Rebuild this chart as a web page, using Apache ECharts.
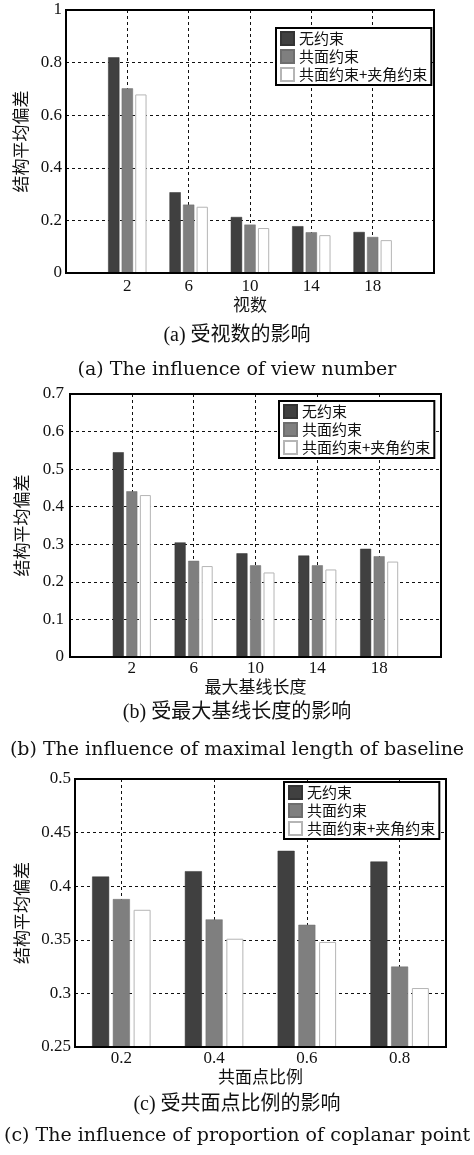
<!DOCTYPE html>
<html>
<head>
<meta charset="utf-8">
<script src="https://cdn.jsdelivr.net/npm/echarts@6/dist/echarts.min.js"></script>
<style>
  html, body { margin: 0; padding: 0; background: #fff; }
  #chart { width: 474px; height: 1155px; }
</style>
</head>
<body>
<div id="chart"></div>
<script>
// Series names
const seriesNames = ['无约束', '共面约束', '共面约束+夹角约束'];

// (a) view number
const viewLabels = ['2', '6', '10', '14', '18'];
const viewNone = [0.820, 0.307, 0.213, 0.178, 0.156];
const viewCoplanar = [0.702, 0.260, 0.184, 0.155, 0.137];
const viewBoth = [0.679, 0.252, 0.171, 0.144, 0.125];

// (b) maximal baseline length
const baseLabels = ['2', '6', '10', '14', '18'];
const baseNone = [0.545, 0.305, 0.276, 0.270, 0.288];
const baseCoplanar = [0.441, 0.256, 0.244, 0.244, 0.268];
const baseBoth = [0.431, 0.242, 0.225, 0.233, 0.254];

// (c) proportion of coplanar points
const ratioLabels = ['0.2', '0.4', '0.6', '0.8'];
const ratioNone = [0.409, 0.414, 0.433, 0.423];
const ratioCoplanar = [0.388, 0.369, 0.364, 0.325];
const ratioBoth = [0.378, 0.351, 0.348, 0.305];

const NUM_FONT = '"Liberation Serif", "Noto Sans CJK SC", serif';
const CJK_FONT = '"Noto Sans CJK SC", sans-serif';
const EN_FONT = '"DejaVu Serif", serif';

const styles = [
  { color: '#404040', borderColor: '#333333', borderWidth: 0.5 },
  { color: '#7f7f7f', borderColor: '#6e6e6e', borderWidth: 0.5 },
  { color: '#ffffff', borderColor: '#b5b5b5', borderWidth: 1 }
];

const grids = [
  { left: 66, top: 10, width: 368, height: 263 },
  { left: 70, top: 394, width: 371, height: 263 },
  { left: 75, top: 779, width: 371, height: 268 }
];

// padded category lists: an empty slot on each side puts the ticks on split lines
const padEnds = arr => ['', ...arr, ''];
const padEndsData = arr => [null, ...arr, null];
// interleave empty slots so every real category sits on a grid line
const interleave = arr => { const out = ['']; arr.forEach(v => out.push(v, '')); return out; };
const interleaveData = arr => { const out = [null]; arr.forEach(v => out.push(v, null)); return out; };

const dashed = { show: true, lineStyle: { color: '#111', type: [3, 3], width: 1 } };

function xAxisFor(i, cats, name, nameGap, labelMargin, splitInterval) {
  return {
    type: 'category', gridIndex: i, data: cats, boundaryGap: false,
    name: name, nameLocation: 'middle', nameGap: nameGap,
    nameTextStyle: { fontFamily: CJK_FONT, fontSize: 17, color: '#111' },
    axisLine: { show: true, lineStyle: { color: '#000', width: 2 } },
    axisTick: { show: false },
    axisLabel: { interval: 0, margin: labelMargin, fontFamily: NUM_FONT, fontSize: 17, color: '#111' },
    splitLine: Object.assign({}, dashed, { interval: splitInterval })
  };
}

function yAxisFor(i, min, max, interval, nameGap, labelMargin) {
  return {
    type: 'value', gridIndex: i, min: min, max: max, interval: interval,
    name: '结构平均偏差', nameLocation: 'middle', nameGap: nameGap, nameRotate: 90,
    nameTextStyle: { fontFamily: CJK_FONT, fontSize: 17, color: '#111' },
    axisLine: { show: true, lineStyle: { color: '#000', width: 2 } },
    axisTick: { show: true, inside: true, length: 3, lineStyle: { color: '#000' } },
    axisLabel: { margin: labelMargin, fontFamily: NUM_FONT, fontSize: 17, color: '#111' },
    splitLine: dashed
  };
}

function barsFor(i, lists, barWidth, barGap) {
  return lists.map((d, k) => ({
    type: 'bar', name: seriesNames[k], xAxisIndex: i, yAxisIndex: i,
    data: d, barWidth: barWidth, barGap: barGap,
    itemStyle: styles[k], animation: false
  }));
}

function legendFor(left, top) {
  return {
    data: seriesNames, orient: 'vertical', left: left, top: top,
    icon: 'rect', itemWidth: 13, itemHeight: 13, itemGap: 3,
    padding: [3, 4, 3, 4], borderColor: '#000', borderWidth: 2,
    backgroundColor: '#fff', selectedMode: false,
    textStyle: { fontFamily: CJK_FONT, fontSize: 15, color: '#111' }
  };
}

function caption(text, y, font, size) {
  return {
    type: 'text', x: 237, y: y, z: 10,
    style: { text: text, textAlign: 'center', textVerticalAlign: 'middle',
             font: size + 'px ' + font, fill: '#111' }
  };
}

function frame(g) {
  return {
    type: 'rect', z: 20, silent: true,
    shape: { x: g.left, y: g.top, width: g.width, height: g.height },
    style: { fill: null, stroke: '#000', lineWidth: 2 }
  };
}

const option = {
  animation: false,
  backgroundColor: '#fff',
  grid: grids.map(g => Object.assign({ containLabel: false }, g)),
  legend: [legendFor(276, 28), legendFor(279, 401), legendFor(284, 782)],
  xAxis: [
    xAxisFor(0, padEnds(viewLabels), '视数', 22, 5, 0),
    xAxisFor(1, padEnds(baseLabels), '最大基线长度', 18, 3, 0),
    xAxisFor(2, interleave(ratioLabels), '共面点比例', 20, 3, i => i % 2 === 1)
  ],
  yAxis: [
    yAxisFor(0, 0, 1, 0.2, 37, 4),
    yAxisFor(1, 0, 0.7, 0.1, 40, 6),
    yAxisFor(2, 0.25, 0.5, 0.05, 45, 4)
  ],
  series: [
    ...barsFor(0, [viewNone, viewCoplanar, viewBoth].map(padEndsData), 11.3, '20%'),
    ...barsFor(1, [baseNone, baseCoplanar, baseBoth].map(padEndsData), 11, '23%'),
    ...barsFor(2, [ratioNone, ratioCoplanar, ratioBoth].map(interleaveData), 17, '22%')
  ],
  graphic: [
    ...grids.map(frame),
    caption('(a) 受视数的影响', 336, NUM_FONT, 20),
    caption('(a) The influence of view number', 370, EN_FONT, 19),
    caption('(b) 受最大基线长度的影响', 713, NUM_FONT, 20),
    caption('(b) The influence of maximal length of baseline', 750, EN_FONT, 19),
    caption('(c) 受共面点比例的影响', 1105, NUM_FONT, 20),
    caption('(c) The influence of proportion of coplanar point', 1136, EN_FONT, 19)
  ]
};

const chart = echarts.init(document.getElementById('chart'), null, { renderer: 'canvas' });
chart.setOption(option);
</script>
</body>
</html>
